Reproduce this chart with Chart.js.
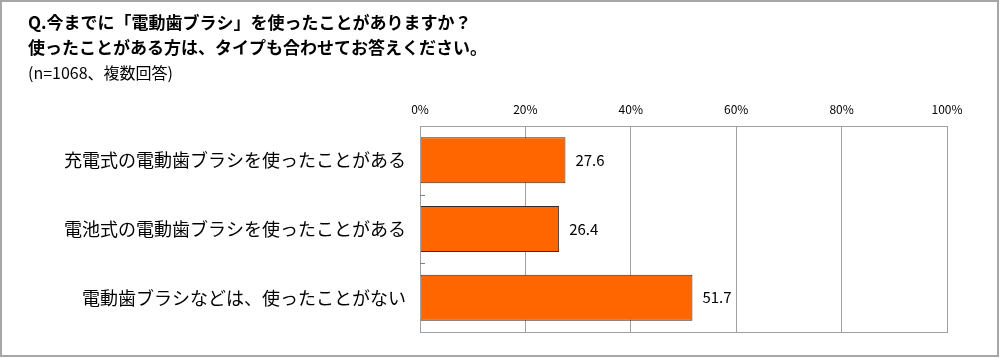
<!DOCTYPE html>
<html><head><meta charset="utf-8">
<script src="https://cdn.jsdelivr.net/npm/chart.js@4.4.1/dist/chart.umd.min.js"></script>
<style>
html,body{margin:0;padding:0;background:#fff;}
#wrap{position:relative;width:1000px;height:358px;}
#frame{position:absolute;left:0;top:0;width:995px;height:353px;border:2px solid #a6a6a6;pointer-events:none;}
canvas{position:absolute;left:0;top:0;}
</style></head>
<body>
<div id="wrap"><canvas id="c" width="1000" height="358"></canvas><div id="frame"></div></div>
<script>
const titleLines = ["Q.今までに「電動歯ブラシ」を使ったことがありますか？", "使ったことがある方は、タイプも合わせてお答えください。"];
const subtitleText = "(n=1068、複数回答)";
const categories = ["充電式の電動歯ブラシを使ったことがある", "電池式の電動歯ブラシを使ったことがある", "電動歯ブラシなどは、使ったことがない"];
const values = [27.6, 26.4, 51.7];
const tickValues = [0, 20, 40, 60, 80, 100];

const FONT = "'Noto Sans CJK JP', 'Noto Sans', sans-serif";

const valueLabels = {
  id: 'valueLabels',
  afterDatasetsDraw(chart) {
    const ctx = chart.ctx;
    const meta = chart.getDatasetMeta(0);
    ctx.save();
    ctx.font = "15px " + FONT;
    ctx.fillStyle = "#000";
    ctx.textAlign = "left";
    ctx.textBaseline = "middle";
    meta.data.forEach((bar, i) => {
      ctx.fillText(values[i].toFixed(1), bar.x + 10, bar.y);
    });
    ctx.restore();
  }
};

const frameAndTicks = {
  id: 'frameAndTicks',
  afterDraw(chart) {
    const ctx = chart.ctx;
    const a = chart.chartArea;
    const y = chart.scales.y;
    ctx.save();
    ctx.strokeStyle = "#a0a0a0";
    ctx.lineWidth = 1;
    ctx.strokeRect(Math.round(a.left) + 0.5, Math.round(a.top) + 0.5, Math.round(a.right - a.left), Math.round(a.bottom - a.top));
    ctx.strokeStyle = "#808080";
    for (let i = 0; i < categories.length - 1; i++) {
      const yy = Math.round((y.getPixelForValue(i) + y.getPixelForValue(i + 1)) / 2) + 0.5;
      ctx.beginPath();
      ctx.moveTo(a.left, yy);
      ctx.lineTo(a.left + 5, yy);
      ctx.stroke();
    }
    ctx.restore();
  }
};

new Chart(document.getElementById('c'), {
  type: 'bar',
  data: {
    labels: categories,
    datasets: [{
      data: values,
      backgroundColor: '#ff6600',
      borderColor: '#3a2a20',
      borderWidth: 1,
      borderSkipped: false,
      barPercentage: 0.67,
      categoryPercentage: 1.0
    }]
  },
  options: {
    indexAxis: 'y',
    responsive: false,
    animation: false,
    layout: { padding: { left: 28, right: 53, top: 0, bottom: 26 } },
    plugins: {
      legend: { display: false },
      tooltip: { enabled: false },
      title: {
        display: true,
        text: titleLines,
        align: 'start',
        color: '#000',
        font: { family: FONT, size: 17, weight: 'bold', lineHeight: 25 / 17 },
        padding: { top: 10, bottom: 0 }
      },
      subtitle: {
        display: true,
        text: subtitleText,
        align: 'start',
        color: '#000',
        font: { family: FONT, size: 16, weight: 'normal', lineHeight: 25 / 16 },
        padding: { top: 0, bottom: 0 }
      }
    },
    scales: {
      x: {
        position: 'top',
        min: 0,
        max: 100,
        afterBuildTicks(s) { s.ticks = tickValues.map(v => ({ value: v })); },
        afterFit(s) { s.height = 41; },
        grid: { color: '#a0a0a0', drawTicks: false, lineWidth: 1 },
        border: { display: true, color: '#a0a0a0' },
        ticks: {
          padding: 9,
          color: '#000',
          font: { family: FONT, size: 12 },
          callback: v => v + '%'
        }
      },
      y: {
        afterFit(s) { s.width = 392; },
        grid: { display: false, drawTicks: false },
        border: { display: true, color: '#808080' },
        ticks: {
          padding: 14,
          color: '#000',
          font: { family: FONT, size: 18 }
        }
      }
    }
  },
  plugins: [valueLabels, frameAndTicks]
});
</script>
</body></html>
